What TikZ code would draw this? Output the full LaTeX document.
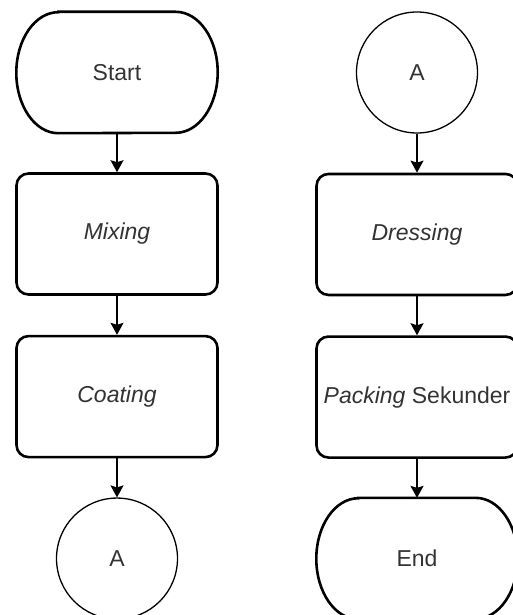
\documentclass[tikz,border=0pt]{standalone}
\usepackage{fontspec}
\setmainfont{Liberation Sans}
\usetikzlibrary{positioning,arrows.meta}
\definecolor{labelgray}{HTML}{333333}
\tikzset{
  flowtext/.style={text=labelgray, font=\fontsize{23}{27}\selectfont},
  termbox/.style={flowtext, minimum width=201pt, minimum height=121pt, inner sep=0pt},
  procbox/.style={flowtext, draw, line width=2.6pt, rounded corners=12pt,
    minimum width=201pt, minimum height=121pt, inner sep=0pt},
  connbox/.style={flowtext, draw, line width=1.3pt, circle, minimum size=121pt, inner sep=0pt},
  flowarrow/.style={-{Stealth[length=12pt,width=13pt,inset=2pt]}, line width=1.6pt}
}
\begin{document}
\begin{tikzpicture}[x=1pt, y=-1pt, node distance=39pt]
  \useasboundingbox (0,0) rectangle (513,615);
  \newcommand{\termOutline}[1]{
    \draw[line width=2.6pt] ([xshift=42pt]#1.north west) -- ([xshift=-42pt]#1.north east)
      arc[start angle=90, end angle=-90, x radius=42pt, y radius=60.5pt]
      -- ([xshift=42pt]#1.south west)
      arc[start angle=270, end angle=90, x radius=42pt, y radius=60.5pt] -- cycle;
  }

  % left column
  \node[termbox] (start) at (117,72.5) {Start};
  \termOutline{start}
  \node[procbox, below=of start] (mixing) {\textit{Mixing}};
  \node[procbox, below=of mixing] (coating) {\textit{Coating}};
  \node[connbox, below=of coating] (outA) {A};

  % right column
  \node[connbox] (inA) at (417,72.5) {A};
  \node[procbox, below=of inA] (dressing) {\textit{Dressing}};
  \node[procbox, below=of dressing] (packing) {\textit{Packing} Sekunder};
  \node[termbox, below=of packing] (end) {End};
  \termOutline{end}

  \draw[flowarrow] (start) -- (mixing);
  \draw[flowarrow] (mixing) -- (coating);
  \draw[flowarrow] (coating) -- (outA);
  \draw[flowarrow] (inA) -- (dressing);
  \draw[flowarrow] (dressing) -- (packing);
  \draw[flowarrow] (packing) -- (end);
\end{tikzpicture}
\end{document}
